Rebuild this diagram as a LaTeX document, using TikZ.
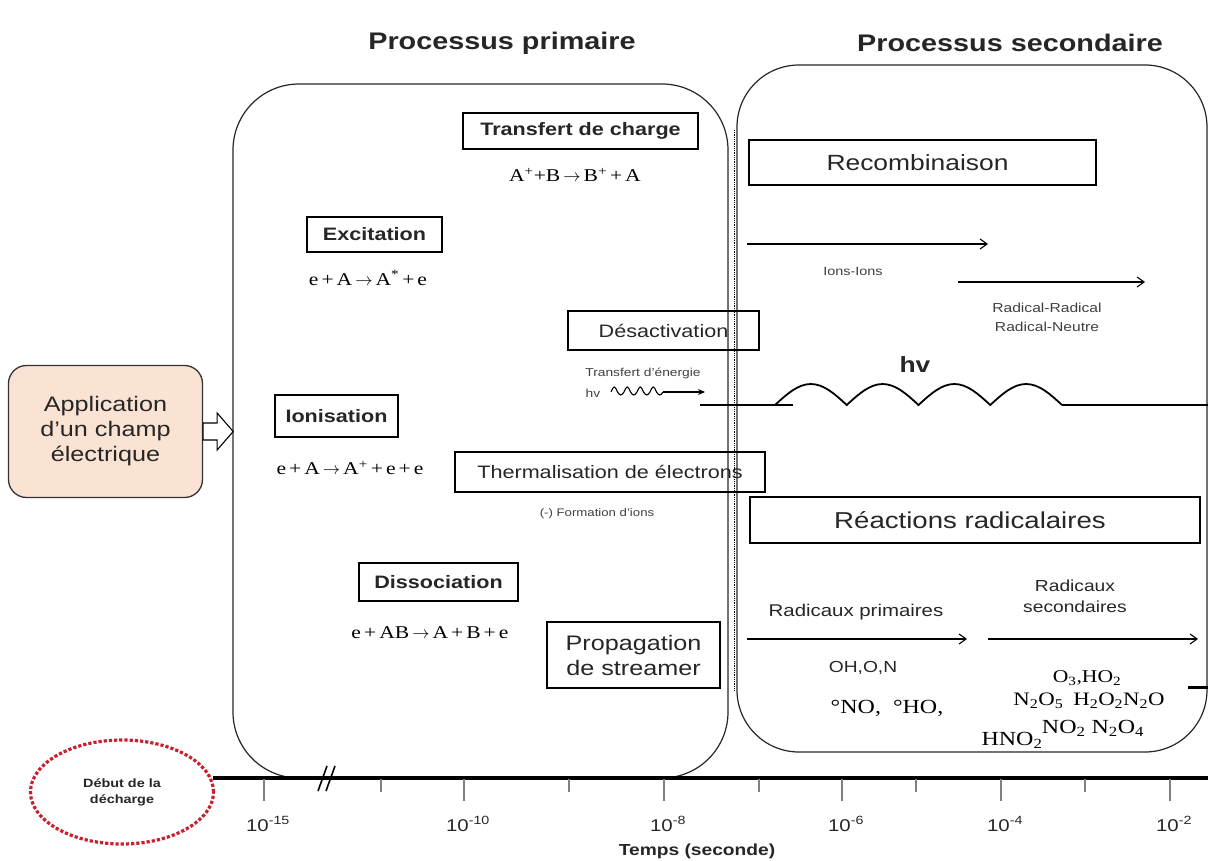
\documentclass[tikz,border=0pt]{standalone}
\usepackage{fontspec}
\setmainfont[FakeStretch=1.2]{Liberation Sans}
\newfontfamily\tms[FakeStretch=1.2]{Liberation Serif}
\usetikzlibrary{arrows.meta,shapes.geometric,calc}
\definecolor{peach}{HTML}{FBE3D4}
\definecolor{dred}{HTML}{C8202C}
\definecolor{txt}{HTML}{262626}
\definecolor{gtxt}{HTML}{404040}
\newcommand\fsz[2]{\fontsize{#1}{#2}\selectfont}
\newcommand\rarr{\,$\rightarrow$\,}
\begin{document}
\begin{tikzpicture}[x=1pt,y=-1pt,
  box/.style={draw, line width=1.1pt, inner sep=0pt, text=txt},
  bbox/.style={box, font=\bfseries\fsz{18}{21}},
  rbox/.style={box, font=\fsz{18}{21}},
  eqn/.style={font=\tms\fsz{18}{21}, text=black, inner sep=0pt},
  small/.style={font=\fsz{12}{15}, text=gtxt, inner sep=0pt, align=center},
  mid/.style={font=\fsz{16}{21}, text=txt, inner sep=0pt, align=center},
  arr/.style={line width=1.1pt, -{Straight Barb[length=7pt,width=10pt]}},
  tick/.style={line width=1.2pt, draw=gray},
  axlbl/.style={font=\fsz{17}{20}, text=txt, inner sep=0pt},
  rbig/.style={rounded corners=66, line width=1.2pt, draw=black!85}
]
\useasboundingbox (0,0) rectangle (1208,861);

% titles
\node[font=\bfseries\fsz{24}{28}, text=txt] (t1) at (502,43) {Processus primaire};
\node[font=\bfseries\fsz{24}{28}, text=txt] (t2) at (1010,43) {Processus secondaire};

% big rounded frames
\draw[rbig] (233,84) rectangle (728,778);
\draw[rbig, rounded corners=62] (737,65) rectangle (1207,752);
\draw[densely dotted, line width=0.8pt] (734.5,130) -- (734.5,690);

% application box + hollow arrow
\node[draw=black!80, line width=1.3pt, fill=peach, rounded corners=18,
      minimum width=194, minimum height=132, align=center,
      font=\fsz{21}{25}, text=txt] (app) at (105.5,431.5)
      {Application\\d'un champ\\électrique};
\draw[line width=1.1pt, fill=white] (app.east) ++(0,-8.5) -- ++(14,0) -- ++(0,-10)
   -- ++(16,18.5) -- ++(-16,18.5) -- ++(0,-10) -- ++(-14,0) -- cycle;

% primary process boxes
\node[bbox, minimum width=235, minimum height=36] (tc) at (580.5,131) {Transfert de charge};
\node[eqn] (eq1) at (575,175) {A\textsuperscript{+}+B\rarr B\textsuperscript{+}\,+\,A};
\node[bbox, minimum width=135, minimum height=35] (exc) at (374.5,234.5) {Excitation};
\node[eqn] (eq2) at (368,278) {e\,+\,A\rarr A\textsuperscript{*}\,+\,e};
\node[bbox, minimum width=123, minimum height=42] (ion) at (336.5,416) {Ionisation};
\node[eqn] (eq3) at (350,468) {e\,+\,A\rarr A\textsuperscript{+}\,+\,e\,+\,e};
\node[bbox, minimum width=159, minimum height=38] (dis) at (438.5,582) {Dissociation};
\node[eqn] (eq4) at (430,633) {e\,+\,AB\rarr A\,+\,B\,+\,e};

\node[rbox, minimum width=191, minimum height=39] (des) at (663.5,330.5) {Désactivation};
\node[small, font=\fsz{11.5}{14}] (te) at (643,373) {Transfert d'énergie};
\node[small, font=\fsz{11.5}{14}] (hv1) at (593,393) {hv};
\coordinate (w1) at (611,392);
\coordinate (w2) at (663,392);
\coordinate (w3) at (705,392);
\draw[line width=1.1pt] (w1) sin ++(3.25,-5) cos ++(3.25,5) sin ++(3.25,3) cos ++(3.25,-3)
   sin ++(3.25,-5) cos ++(3.25,5) sin ++(3.25,3) cos ++(3.25,-3)
   sin ++(3.25,-5) cos ++(3.25,5) sin ++(3.25,3) cos ++(3.25,-3)
   sin ++(3.25,-5) cos ++(3.25,5) sin ++(3.25,3) cos ++(3.25,-3);
\draw[line width=1.1pt, -{Stealth[length=7pt,width=6pt]}] (w2) -- (w3);

\node[rbox, minimum width=310, minimum height=40] (ther) at (610,472) {Thermalisation de électrons};
\node[small, font=\fsz{11}{13}] (form) at (597,514) {(-) Formation d'ions};
\node[rbox, minimum width=173, minimum height=66, align=center, font=\fsz{21}{25}] (prop) at (633.5,655) {Propagation\\de streamer};

% hv line across
\coordinate (h0) at (700,405);
\coordinate (h1) at (793,405);
\coordinate (h2) at (775,405);
\coordinate (h3) at (1062,405);
\coordinate (h4) at (1208,405);
\draw[line width=2.4pt] (h0) -- (h1);
\draw[line width=2.4pt] (h3) -- (h4);
\draw[line width=1.8pt] (h2) sin ++(35.875,-21) cos ++(35.875,21)
   sin ++(35.875,-21) cos ++(35.875,21)
   sin ++(35.875,-21) cos ++(35.875,21)
   sin ++(35.875,-21) cos ++(35.875,21);
\node[font=\bfseries\fsz{22}{26}, text=txt] (hv2) at (915,365) {hv};

% secondary process
\node[rbox, minimum width=347, minimum height=45, font=\fsz{22}{26}] (rec) at (922.5,162.5) {Recombinaison\hspace*{10pt}};
\coordinate (a1s) at (747,244);
\coordinate (a1e) at (988,244);
\draw[arr] (a1s) -- (a1e);
\node[small] (ii) at (853,271) {Ions-Ions};
\coordinate (a2s) at (958,282);
\coordinate (a2e) at (1145,282);
\draw[arr] (a2s) -- (a2e);
\node[small, font=\fsz{13}{19}] (rr) at (1047,317) {Radical-Radical\\Radical-Neutre};

\node[rbox, minimum width=450, minimum height=46, font=\fsz{23}{27}] (rea) at (975,520) {Réactions radicalaires\hspace*{10pt}};
\node[mid, font=\fsz{17}{20}] (rp) at (856,612) {Radicaux primaires};
\node[mid] (rs) at (1075,596) {Radicaux\\secondaires};
\coordinate (b1s) at (747,639);
\coordinate (b1e) at (967,639);
\draw[arr] (b1s) -- (b1e);
\coordinate (b2s) at (988,639);
\coordinate (b2e) at (1198,639);
\draw[arr] (b2s) -- (b2e);
\node[mid] (oh) at (863,668) {OH,O,N};
\node[eqn, font=\tms\fsz{20}{23}] (no) at (887,708) {°NO,\hspace{12pt}°HO,};
\node[eqn, font=\tms\fsz{18}{21}] (o3) at (1087,678) {O\textsubscript{3},HO\textsubscript{2}};
\node[eqn, font=\tms\fsz{19}{22}] (n2o5) at (1089,701) {N\textsubscript{2}O\textsubscript{5}\hspace{10pt}H\textsubscript{2}O\textsubscript{2}N\textsubscript{2}O};
\node[eqn, font=\tms\fsz{20}{23}] (no2) at (1093,728) {NO\textsubscript{2} N\textsubscript{2}O\textsubscript{4}};
\node[eqn, font=\tms\fsz{20}{23}] (hno2) at (1012,740) {HNO\textsubscript{2}};
\coordinate (d0) at (1188,687);
\coordinate (d1) at (1208,687);
\draw[line width=3pt] (d0) -- (d1);

% time axis
\node[ellipse, draw=dred, dotted, line width=3.2pt, minimum width=183, minimum height=104,
      align=center, font=\bfseries\fsz{12}{16}, text=txt, inner sep=0pt] (deb) at (122,792)
      {Début de la\\décharge};
\coordinate (ax0) at (213,778);
\coordinate (ax1) at (1208,778);
\draw[line width=3.5pt] (ax0) -- (ax1);
\draw[line width=1.6pt] (318,791) -- (327,766) (326,791) -- (335,766);
\foreach \x/\l in {264/-15, 464/-10, 664/-8, 842/-6, 1001/-4, 1170/-2}{
  \draw[tick] (\x,779) -- (\x,801);
  \node[axlbl] at (\x+4,824) {10\textsuperscript{\l}};
}
\foreach \x in {381, 569, 759, 916, 1085}{
  \draw[tick] (\x,779) -- (\x,792);
}
\node[font=\bfseries\fsz{16}{19}, text=txt] (temps) at (697,851) {Temps (seconde)};
\end{tikzpicture}
\end{document}
